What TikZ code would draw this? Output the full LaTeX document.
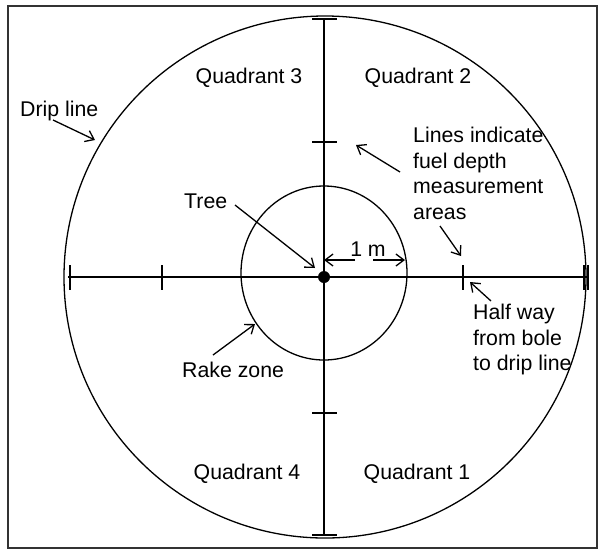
\documentclass[tikz,border=0pt]{standalone}
\usepackage{fontspec}
\setmainfont{Liberation Sans}
\usetikzlibrary{arrows.meta}
\definecolor{ink}{HTML}{000000}
\definecolor{edgegray}{HTML}{333333}

\begin{document}
\begin{tikzpicture}[
  x=1pt,y=-1pt,
  every node/.style={font=\fontsize{21.3}{25.5}\selectfont,inner sep=0pt,text=ink},
  lbl/.style={anchor=base west},
  quad/.style={anchor=base},
  note/.style={anchor=north west,align=left},
  ln/.style={draw=ink,line width=1.3pt},
  ar/.style={-{Straight Barb[length=8pt,width=12pt]},draw=ink,line width=1.3pt}
]
\useasboundingbox (0,0) rectangle (601,550);
\draw[draw=edgegray,line width=2.2pt] (8,6) rectangle (597,548);

% drip line and rake zone
\draw[ln] (325,277) circle (261);
\draw[ln] (324,273) ellipse (83 and 87);

% measurement lines
\draw[ln] (68,277) -- (588,277);
\draw[ln] (324,18) -- (324,536);
\foreach \x in {70,162,463,584,588}
  \draw[ln] (\x,265) -- (\x,290);
\foreach \y in {19,142,413,535}
  \draw[ln] (312,\y) -- (337,\y);

\node[circle,fill=ink,minimum size=12pt] (tree) at (324,277) {};

% labels
\node[quad] (q3) at (249,83) {Quadrant 3};
\node[quad] (q2) at (418,83) {Quadrant 2};
\node[quad] (q4) at (247,479) {Quadrant 4};
\node[quad] (q1) at (417,479) {Quadrant 1};
\node[lbl] (drip) at (20,116) {Drip line};
\node[lbl] (treelbl) at (184,208) {Tree};
\node[lbl] (rakelbl) at (182,377) {Rake zone};
\node[quad] (onem) at (368,256) {1 m};
\node[note] (lineslbl) at (413,127) {Lines indicate\\fuel depth\\measurement\\areas};
\node[note] (halflbl) at (473,304) {Half way\\from bole\\to drip line};

% arrow ends
\coordinate (dripS) at (53,120);
\coordinate (dripE) at (95,140);
\coordinate (treeS) at (235,205);
\coordinate (treeE) at (315,268);
\coordinate (rakeS) at (213,355);
\coordinate (rakeE) at (255,324);
\coordinate (linesS) at (400,172);
\coordinate (linesE) at (356,145);
\coordinate (areasS) at (440,226);
\coordinate (areasE) at (461,256);
\coordinate (halfS) at (491,301);
\coordinate (halfE) at (470,282);
\coordinate (dimL) at (355,260);
\coordinate (dimR) at (373,260);
\coordinate (rimR) at (405,260);

\draw[ar] (dripS) -- (dripE);
\draw[ar] (treeS) -- (treeE);
\draw[ar] (rakeS) -- (rakeE);
\draw[ar] (linesS) -- (linesE);
\draw[ar] (areasS) -- (areasE);
\draw[ar] (halfS) -- (halfE);
\draw[ar] (dimL) -- (dimL -| tree);
\draw[ar] (dimR) -- (rimR);
\end{tikzpicture}
\end{document}
